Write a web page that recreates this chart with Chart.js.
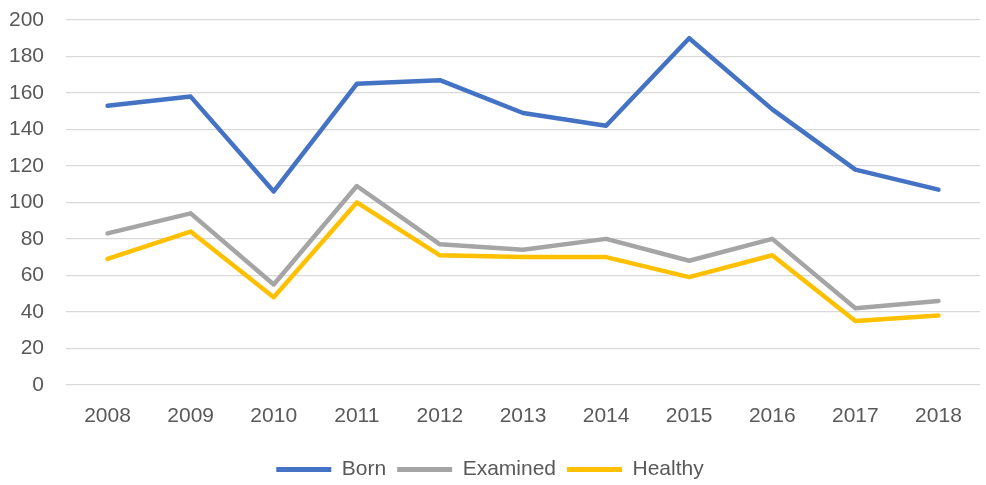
<!DOCTYPE html>
<html>
<head>
<meta charset="utf-8">
<script src="https://cdn.jsdelivr.net/npm/chart.js@4"></script>
<style>
  html, body { margin: 0; padding: 0; background: #fff; }
  #wrap { width: 986px; height: 485px; }
</style>
</head>
<body>
<div id="wrap"><canvas id="grafico" width="986" height="485"></canvas></div>
<script>
const anos = ["2008", "2009", "2010", "2011", "2012", "2013", "2014", "2015", "2016", "2017", "2018"];
const born = [153, 158, 106, 165, 167, 149, 142, 190, 151, 118, 107];
const examined = [83, 94, 55, 109, 77, 74, 80, 68, 80, 42, 46];
const healthy = [69, 84, 48, 100, 71, 70, 70, 59, 71, 35, 38];

const corTexto = "#595959";
const fonte = { family: "'Liberation Sans', Arial, sans-serif", size: 21 };

function serie(label, data, cor) {
  return {
    label: label,
    data: data,
    borderColor: cor,
    backgroundColor: cor,
    borderWidth: 4.5,
    pointRadius: 0,
    pointHoverRadius: 0,
    tension: 0,
    borderCapStyle: "round",
    borderJoinStyle: "round",
    fill: false
  };
}

const ctx = document.getElementById("grafico").getContext("2d");
new Chart(ctx, {
  type: "line",
  data: {
    labels: anos,
    datasets: [
      serie("Born", born, "#4472C4"),
      serie("Examined", examined, "#A5A5A5"),
      serie("Healthy", healthy, "#FFC000")
    ]
  },
  options: {
    responsive: false,
    animation: false,
    layout: { padding: { top: 20, right: 6, left: 0, bottom: -5 } },
    scales: {
      x: {
        offset: true,
        grid: { display: false, drawTicks: false },
        border: { display: false },
        ticks: { color: corTexto, font: fonte, padding: 19, maxRotation: 0 }
      },
      y: {
        min: 0,
        max: 200,
        grid: { color: "#D9D9D9", lineWidth: 1.3, drawTicks: false },
        border: { display: false },
        ticks: { color: corTexto, font: fonte, padding: 22, stepSize: 20 },
        afterFit: s => {
          s.width = 66;
          s.paddingTop = 0;
          s.paddingBottom = 0;
        }
      }
    },
    plugins: {
      tooltip: { enabled: false },
      legend: {
        position: "bottom",
        labels: {
          color: corTexto,
          font: fonte,
          boxWidth: 55,
          boxHeight: 5,
          padding: 11,
          generateLabels: chart => Chart.defaults.plugins.legend.labels.generateLabels(chart).map(it => {
            it.lineWidth = 0;
            return it;
          })
        }
      }
    }
  }
});
</script>
</body>
</html>
